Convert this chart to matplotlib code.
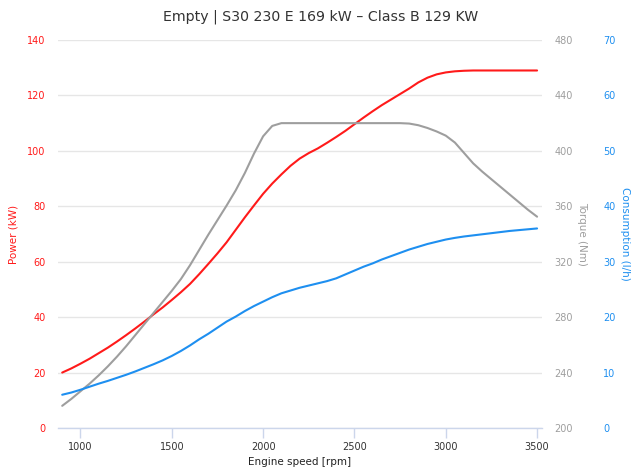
import matplotlib
matplotlib.use("Agg")
import matplotlib.pyplot as plt

rpm = [900, 950, 1000, 1050, 1100, 1150, 1200, 1250, 1300, 1350, 1400, 1450,
       1500, 1550, 1600, 1650, 1700, 1750, 1800, 1850, 1900, 1950, 2000, 2050,
       2100, 2150, 2200, 2250, 2300, 2350, 2400, 2450, 2500, 2550, 2600, 2650,
       2700, 2750, 2800, 2850, 2900, 2950, 3000, 3050, 3100, 3150, 3200, 3250,
       3300, 3350, 3400, 3450, 3500]
power_kw = [20.0, 21.5, 23.2, 25.0, 27.0, 29.0, 31.2, 33.5, 35.9, 38.4, 41.0, 43.5,
            46.2, 49.0, 52.0, 55.5, 59.2, 63.0, 67.0, 71.5, 76.0, 80.3, 84.5, 88.2,
            91.5, 94.6, 97.2, 99.2, 100.9, 102.9, 105.0, 107.2, 109.6, 112.0, 114.3,
            116.5, 118.5, 120.5, 122.5, 124.7, 126.4, 127.6, 128.3, 128.7, 128.9,
            129.0, 129.0, 129.0, 129.0, 129.0, 129.0, 129.0, 129.0]
torque_nm = [216, 221, 226.5, 232, 238, 244.5, 251.5, 259, 267, 275, 283, 291,
             299, 307.5, 317.5, 328.5, 339.5, 350, 360.5, 371.5, 384, 398, 410.5, 418,
             420, 420, 420, 420, 420, 420, 420, 420, 420, 420, 420, 420,
             420, 420, 419.7, 418.5, 416.5, 414, 411, 406, 398.5, 391, 385, 379.5,
             374, 368.5, 363, 357.5, 352.5]
consumption_lh = [6.0, 6.4, 6.9, 7.45, 8.0, 8.5, 9.05, 9.6, 10.2, 10.85, 11.5, 12.2,
                  13.0, 13.9, 14.9, 16.0, 17.0, 18.1, 19.2, 20.1, 21.1, 22.0, 22.8, 23.6,
                  24.3, 24.8, 25.3, 25.7, 26.1, 26.5, 27.0, 27.7, 28.4, 29.1, 29.7, 30.4,
                  31.0, 31.6, 32.2, 32.7, 33.2, 33.6, 34.0, 34.3, 34.55, 34.75, 34.95,
                  35.15, 35.35, 35.55, 35.7, 35.85, 36.0]

x_ticks = [1000, 1500, 2000, 2500, 3000, 3500]
power_ticks = [0, 20, 40, 60, 80, 100, 120, 140]
torque_ticks = [200, 240, 280, 320, 360, 400, 440, 480]
cons_ticks = [0, 10, 20, 30, 40, 50, 60, 70]

title = "Empty | S30 230 E 169 kW \u2013 Class B 129 KW"

RED = "#ff1a1a"
GRAY = "#9e9e9e"
BLUE = "#1e8ff0"
TICKFS = 7

W, H = 639, 475
fig = plt.figure(figsize=(W / 100, H / 100), dpi=100)
left, right, top, bottom = 58, 542, 40, 428
ax = fig.add_axes([left / W, 1 - bottom / H, (right - left) / W, (bottom - top) / H])
ax2 = ax.twinx()
ax3 = ax.twinx()

ax.set_xlim(877, 3527)
ax.set_ylim(0, 140)
ax2.set_ylim(200, 480)
ax3.set_ylim(0, 70)

kw = dict(lw=1.5, zorder=3, solid_joinstyle="round", solid_capstyle="round")
ax.plot(rpm, power_kw, color=RED, **kw)
ax2.plot(rpm, torque_nm, color=GRAY, **kw)
ax3.plot(rpm, consumption_lh, color=BLUE, **kw)

for a in (ax, ax2, ax3):
    for s in a.spines.values():
        s.set_visible(False)
ax.spines["bottom"].set_visible(True)
ax.spines["bottom"].set_color("#ccd6eb")
ax.spines["bottom"].set_linewidth(1)

ax.set_yticks(power_ticks)
ax.grid(axis="y", color="#e6e6e6", lw=1)
ax.set_axisbelow(True)
ax.tick_params(axis="y", length=0, pad=9, labelsize=TICKFS, labelcolor=RED)
ax.set_xticks(x_ticks)
ax.tick_params(axis="x", length=7, width=1, color="#ccd6eb", pad=3, labelsize=TICKFS,
               labelcolor="#333333")

ax2.set_yticks(torque_ticks)
ax2.tick_params(axis="y", length=0, pad=9, labelsize=TICKFS, labelcolor=GRAY)
ax3.set_yticks(cons_ticks)
ax3.tick_params(axis="y", length=0, pad=44, labelsize=TICKFS, labelcolor=BLUE)

ax.set_xlabel("Engine speed [rpm]", fontsize=7.5, color="#222222", labelpad=4)
ax.set_ylabel("Power (kW)", fontsize=7.5, color=RED)
ax.yaxis.set_label_coords((18 - left) / (right - left), 0.5)
ax2.set_ylabel("Torque (Nm)", fontsize=7.5, color=GRAY, rotation=270, va="center")
ax2.yaxis.set_label_coords((582 - left) / (right - left), 0.5)
ax3.set_ylabel("Consumption (l/h)", fontsize=7.5, color=BLUE, rotation=270, va="center")
ax3.yaxis.set_label_coords((625 - left) / (right - left), 0.5)

fig.text(0.502, 1 - 17 / H, title, ha="center", va="center", fontsize=10.2, color="#333333")

fig.savefig("out.png", dpi=100, facecolor="white")
